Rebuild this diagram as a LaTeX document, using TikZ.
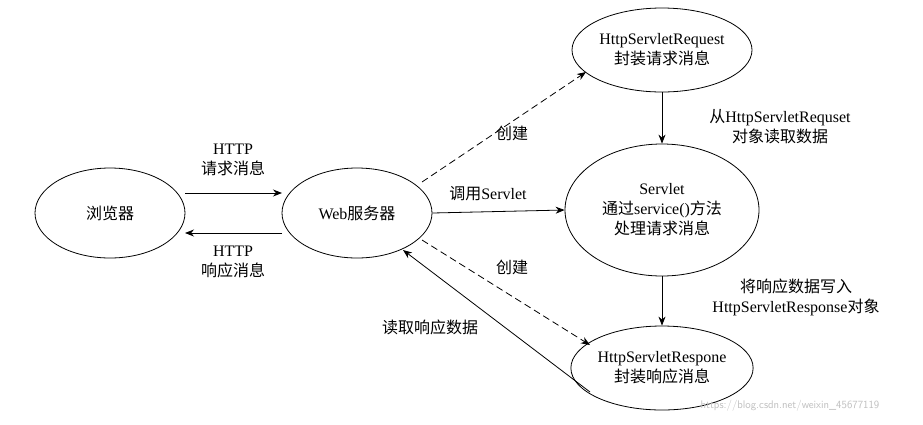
\documentclass[tikz,border=0pt]{standalone}
\usepackage{fontspec}
\setmainfont{Liberation Serif}
\newfontfamily\cjk{Noto Sans CJK SC}
\usetikzlibrary{shapes.geometric,arrows.meta}
\begin{document}
\begin{tikzpicture}[x=1pt,y=-1pt,
  el/.style={ellipse,draw,thick,inner sep=0pt,align=center,font=\fontsize{16}{20}\selectfont},
  lab/.style={align=center,font=\fontsize{16}{20}\selectfont},
  arr/.style={-{Stealth[length=9pt,width=7pt]},thick},
  darr/.style={arr,dash pattern=on 7pt off 4pt}]
\useasboundingbox[fill=white] (0,0) rectangle (923,424);
\node[el,minimum width=150,minimum height=90] (b) at (110,213) {{\cjk 浏览器}};
\node[el,minimum width=150,minimum height=90] (w) at (357,213) {Web{\cjk 服务器}};
\node[el,minimum width=180,minimum height=84] (rq) at (662,50) {HttpServletRequest\\{\cjk 封装请求消息}};
\node[el,minimum width=194,minimum height=132] (s) at (662,210) {Servlet\\{\cjk 通过}service(){\cjk 方法}\\{\cjk 处理请求消息}};
\node[el,minimum width=180,minimum height=84] (rp) at (662,368) {HttpServletRespone\\{\cjk 封装响应消息}};
\coordinate (b1) at (185,193); \coordinate (w1) at (282,193);
\coordinate (b2) at (185,233); \coordinate (w2) at (282,233);
\draw[arr] (b1) -- (w1);
\draw[arr] (w2) -- (b2);
\node[lab] (l1) at (233,160) {HTTP\\{\cjk 请求消息}};
\node[lab] (l2) at (233,262) {HTTP\\{\cjk 响应消息}};
\coordinate (wa) at (422,182); \coordinate (ra) at (586,72);
\coordinate (wb) at (422,240); \coordinate (rb) at (590,345);
\draw[darr] (wa) -- (ra);
\draw[arr] (w.east) -- (s.west);
\draw[darr] (wb) -- (rb);
\coordinate (rps) at (590,392);
\coordinate (wse) at (403,250);
\draw[arr] (rps) -- (wse);
\node[lab] (c1) at (512,133) {{\cjk 创建}};
\node[lab] (c2) at (488,194) {{\cjk 调用}Servlet};
\node[lab] (c3) at (512,267) {{\cjk 创建}};
\node[lab] (c4) at (430,327) {{\cjk 读取响应数据}};
\draw[arr] (rq.south) -- (s.north);
\draw[arr] (s.south) -- (rp.north);
\node[lab] (c5) at (780,127) {{\cjk 从}HttpServletRequset\\{\cjk 对象读取数据}};
\node[lab] (c6) at (796,297) {{\cjk 将响应数据写入}\\HttpServletResponse{\cjk 对象}};
\node[font=\sffamily\fontsize{11}{13}\selectfont,text=gray!50] (wm) at (790,406) {https://blog.csdn.net/weixin\_45677119};
\end{tikzpicture}
\end{document}
